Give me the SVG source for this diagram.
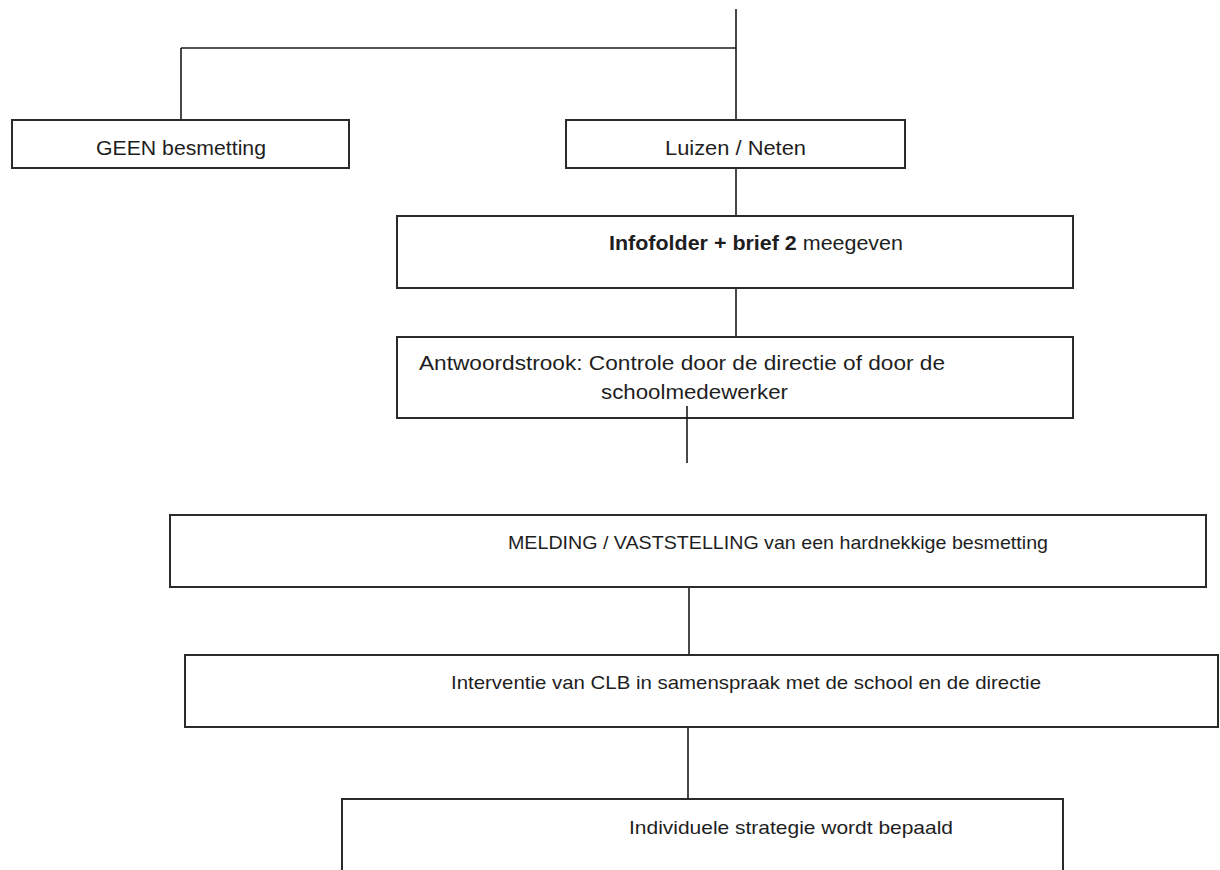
<svg xmlns="http://www.w3.org/2000/svg" width="1220" height="870" viewBox="0 0 1220 870">
<style>
.box{fill:#fff;stroke:#2a2a2a;stroke-width:2}
.ln{fill:none;stroke:#1a1a1a;stroke-width:1.6}
.t{font-family:"Liberation Sans",Arial,sans-serif;font-size:19px;fill:#1e1e1e}
.l{font-size:21px}
.m{font-size:20px}
.b{font-weight:bold}
</style>
<rect width="1220" height="870" fill="#fff"/>
<g id="geen">
<rect class="box" x="12" y="120" width="337" height="48"/>
<text class="t l" x="96" y="155" textLength="170" lengthAdjust="spacingAndGlyphs">GEEN besmetting</text>
</g>
<g id="luizen">
<rect class="box" x="566" y="120" width="339" height="48"/>
<text class="t l" x="665" y="155" textLength="141" lengthAdjust="spacingAndGlyphs">Luizen / Neten</text>
</g>
<g id="infofolder">
<rect class="box" x="397" y="216" width="676" height="72"/>
<text class="t m" x="609" y="250" textLength="294" lengthAdjust="spacingAndGlyphs"><tspan class="b">Infofolder + brief 2</tspan> meegeven</text>
</g>
<g id="antwoordstrook">
<rect class="box" x="397" y="337" width="676" height="81"/>
<text class="t m" x="419" y="370" textLength="526" lengthAdjust="spacingAndGlyphs">Antwoordstrook: Controle door de directie of door de</text>
<text class="t m" x="601" y="399" textLength="187" lengthAdjust="spacingAndGlyphs">schoolmedewerker</text>
</g>
<g id="melding">
<rect class="box" x="170" y="515" width="1036" height="72"/>
<text class="t" x="508" y="549" textLength="540" lengthAdjust="spacingAndGlyphs">MELDING / VASTSTELLING van een hardnekkige besmetting</text>
</g>
<g id="interventie">
<rect class="box" x="185" y="655" width="1033" height="72"/>
<text class="t" x="451" y="689" textLength="590" lengthAdjust="spacingAndGlyphs">Interventie van CLB in samenspraak met de school en de directie</text>
</g>
<g id="individuele">
<path class="box" d="M342 875 V799 H1063 V875"/>
<text class="t" x="629" y="834" textLength="324" lengthAdjust="spacingAndGlyphs">Individuele strategie wordt bepaald</text>
</g>
<g id="connectors">
<path class="ln" d="M736 9 V119"/>
<path class="ln" d="M181 48 H736"/>
<path class="ln" d="M181 48 V119"/>
<path class="ln" d="M736 169 V215"/>
<path class="ln" d="M736 289 V336"/>
<path class="ln" d="M687 406 V463"/>
<path class="ln" d="M689 588 V654"/>
<path class="ln" d="M688 728 V798"/>
</g>
</svg>
